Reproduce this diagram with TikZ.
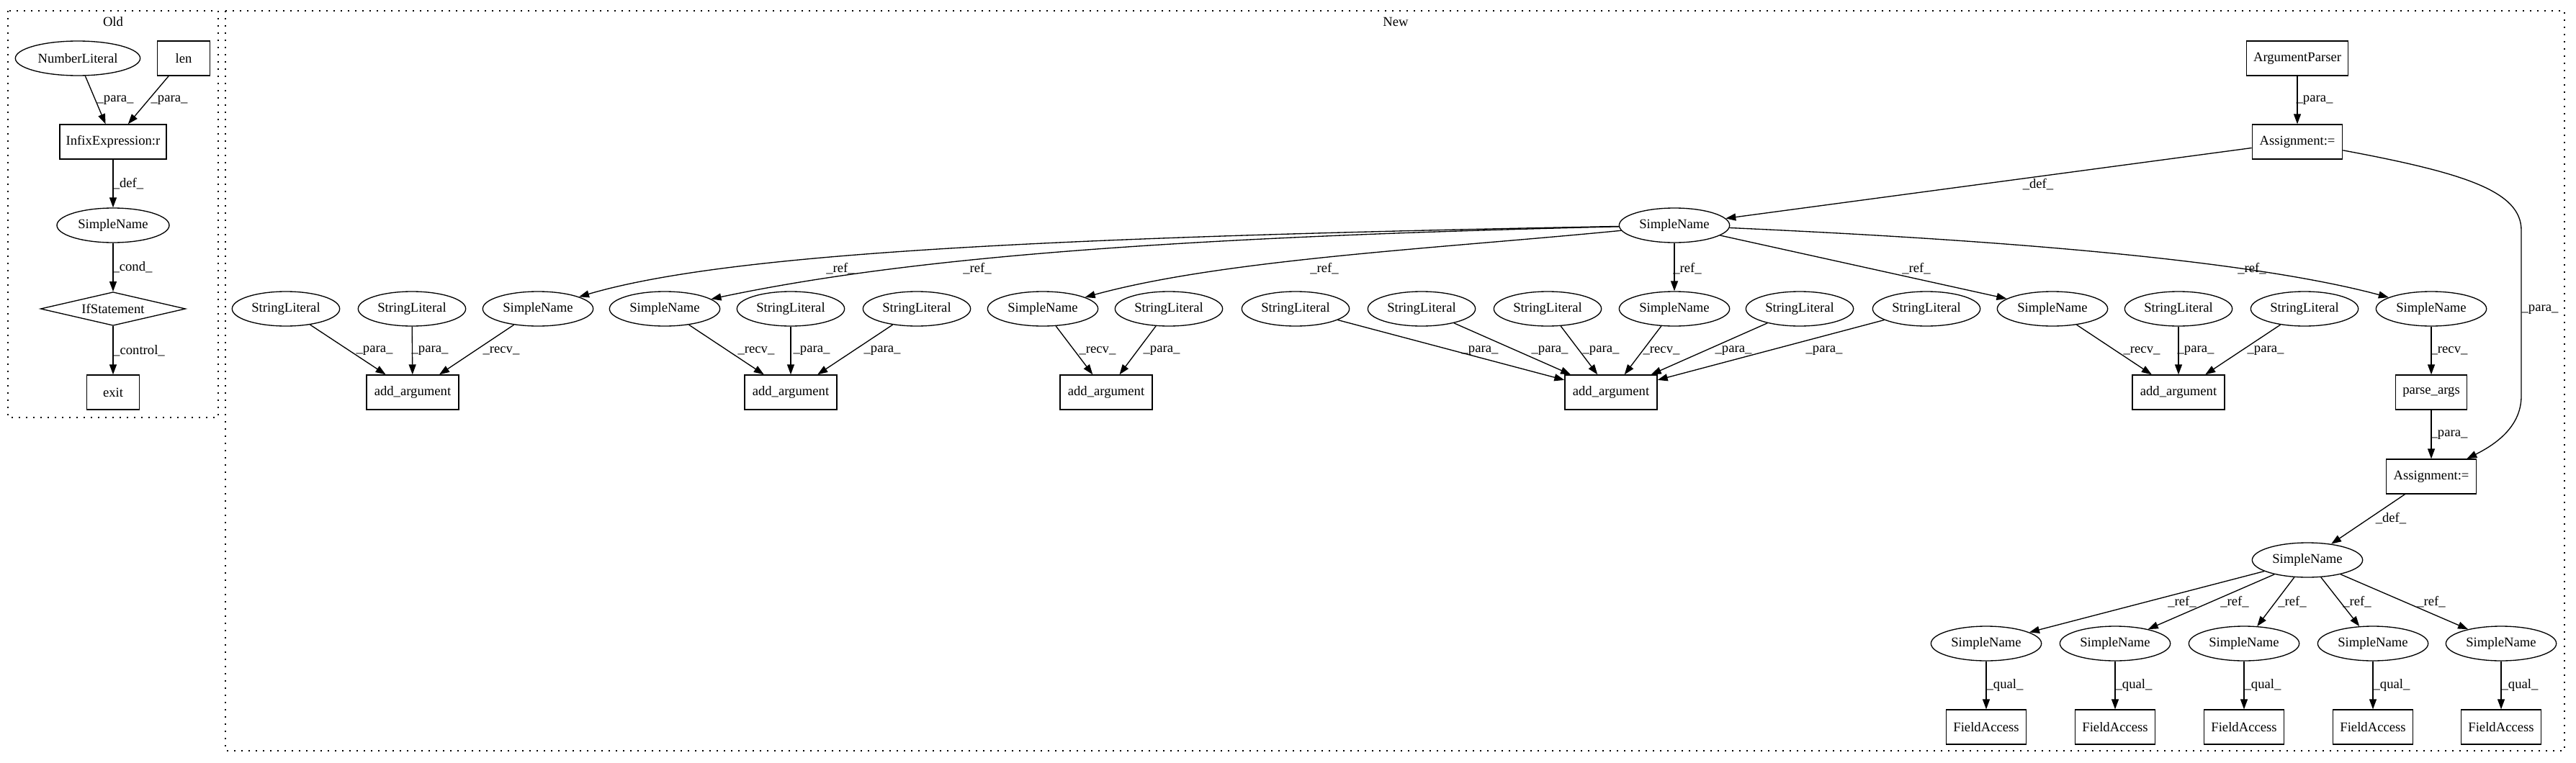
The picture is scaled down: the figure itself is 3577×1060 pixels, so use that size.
\documentclass[tikz,border=0pt]{standalone}
\usepackage{fontspec}
\setmainfont{Liberation Serif}
\usetikzlibrary{shapes.geometric,arrows.meta}
\tikzset{
  ast/.style={draw, line width=1pt, inner sep=0pt, minimum height=36pt},
  ellnode/.style={ast, ellipse, minimum width=115pt},
  strlit/.style={ast, ellipse, minimum width=112pt},
  boxnode/.style={ast, rectangle, minimum width=96pt},
  edge/.style={-{Triangle[length=10.5pt,width=7.5pt]}, line width=1pt},
  lbl/.style={inner sep=0pt},
  cluster/.style={draw, line width=1pt, dash pattern=on 1.2pt off 6.3pt},
}
\begin{document}
\begin{tikzpicture}[x=0.75pt, y=-0.75pt, every node/.append style={font=\fontsize{14}{16.8}\selectfont}]
\useasboundingbox (0,0) rectangle (3577,1060);
% clusters
\draw[cluster] (11,15) rectangle (303,580);
\node (oldtitle) at (157,30) {Old};
\draw[cluster] (313,15) rectangle (3561,1043);
\node (newtitle) at (1938,30) {New};

% old version
\node[ellnode, minimum width=130pt] (numlit) at (108,81) {NumberLiteral};
\node[boxnode, minimum width=55pt] (len) at (255,81) {len};
\node[boxnode, minimum width=111pt] (infix) at (157,197) {InfixExpression:r};
\node[ellnode, minimum width=117pt] (oldname) at (157,313) {SimpleName};
\node[ast, diamond, aspect=4.3, minimum width=151pt, minimum height=35pt] (ifstmt) at (157,429) {IfStatement};
\node[boxnode, minimum width=55pt] (exit) at (157,545) {exit};

\draw[edge] (numlit) -- (infix) node[lbl] at (160,139) {\_para\_};
\draw[edge] (len) -- (infix) node[lbl] at (235,139) {\_para\_};
\draw[edge] (infix) -- (oldname) node[lbl] at (178,255) {\_def\_};
\draw[edge] (oldname) -- (ifstmt) node[lbl] at (184,371) {\_cond\_};
\draw[edge] (ifstmt) -- (exit) node[lbl] at (193,487) {\_control\_};

% new version
\node[boxnode, minimum width=106pt] (parser) at (3190,81) {ArgumentParser};
\node[boxnode, minimum width=94pt] (assignA) at (3190,197) {Assignment:=};
\node[ellnode] (parserVar) at (2325,313) {SimpleName};

\node[strlit] (s1a) at (397,429) {StringLiteral};
\node[strlit] (s1b) at (572,429) {StringLiteral};
\node[ellnode] (n1) at (747,429) {SimpleName};
\node[ellnode] (n2) at (923,429) {SimpleName};
\node[strlit] (s2a) at (1098,429) {StringLiteral};
\node[strlit] (s2b) at (1273,429) {StringLiteral};
\node[ellnode] (n3) at (1448,429) {SimpleName};
\node[strlit] (s3a) at (1623,429) {StringLiteral};
\node[strlit] (s4a) at (1799,429) {StringLiteral};
\node[strlit] (s4b) at (1974,429) {StringLiteral};
\node[strlit] (s4c) at (2149,429) {StringLiteral};
\node[ellnode] (n4) at (2325,429) {SimpleName};
\node[strlit] (s4d) at (2499,429) {StringLiteral};
\node[strlit] (s4e) at (2675,429) {StringLiteral};
\node[ellnode] (n5) at (2850,429) {SimpleName};
\node[strlit] (s5a) at (3025,429) {StringLiteral};
\node[strlit] (s5b) at (3200,429) {StringLiteral};
\node[ellnode] (n6) at (3376,429) {SimpleName};

\node[boxnode] (addArgA) at (573,545) {add\_argument};
\node[boxnode] (addArgB) at (1098,545) {add\_argument};
\node[boxnode] (addArgC) at (1536,545) {add\_argument};
\node[boxnode] (addArgD) at (2237,545) {add\_argument};
\node[boxnode] (addArgE) at (3025,545) {add\_argument};
\node[boxnode, minimum width=74pt] (parseArgs) at (3376,545) {parse\_args};

\node[boxnode, minimum width=94pt] (assignB) at (3376,662) {Assignment:=};
\node[ellnode] (argsVar) at (3204,778) {SimpleName};

\node[ellnode] (q1) at (2758,894) {SimpleName};
\node[ellnode] (q2) at (2937,894) {SimpleName};
\node[ellnode] (q3) at (3116,894) {SimpleName};
\node[ellnode] (q4) at (3295,894) {SimpleName};
\node[ellnode] (q5) at (3473,894) {SimpleName};
\node[boxnode, minimum width=83pt] (fa1) at (2758,1010) {FieldAccess};
\node[boxnode, minimum width=83pt] (fa2) at (2937,1010) {FieldAccess};
\node[boxnode, minimum width=83pt] (fa3) at (3116,1010) {FieldAccess};
\node[boxnode, minimum width=83pt] (fa4) at (3295,1010) {FieldAccess};
\node[boxnode, minimum width=83pt] (fa5) at (3473,1010) {FieldAccess};

\draw[edge] (parser) -- (assignA) node[lbl] at (3214,139) {\_para\_};
\draw[edge] (assignA) -- (parserVar) node[lbl] at (2830,256) {\_def\_};
\draw[edge] (assignA) .. controls (3420,240) and (3501,265) .. (3501,320)
  -- (3501,550) .. controls (3501,590) and (3470,615) .. (assignB)
  node[lbl] at (3527,430) {\_para\_};

\draw[edge] (parserVar) .. controls (1400,330) and (1000,355) .. (n1) node[lbl] at (1167,373) {\_ref\_};
\draw[edge] (parserVar) .. controls (1600,330) and (1250,360) .. (n2) node[lbl] at (1357,373) {\_ref\_};
\draw[edge] (parserVar) .. controls (2000,345) and (1700,360) .. (n3) node[lbl] at (1839,373) {\_ref\_};
\draw[edge] (parserVar) -- (n4) node[lbl] at (2343,373) {\_ref\_};
\draw[edge] (parserVar) -- (n5) node[lbl] at (2661,373) {\_ref\_};
\draw[edge] (parserVar) .. controls (2700,330) and (3100,355) .. (n6) node[lbl] at (3127,373) {\_ref\_};

\draw[edge] (s1a) -- (addArgA) node[lbl] at (520,487) {\_para\_};
\draw[edge] (s1b) -- (addArgA) node[lbl] at (597,487) {\_para\_};
\draw[edge] (n1) -- (addArgA) node[lbl] at (696,487) {\_recv\_};
\draw[edge] (n2) -- (addArgB) node[lbl] at (1050,487) {\_recv\_};
\draw[edge] (s2a) -- (addArgB) node[lbl] at (1127,487) {\_para\_};
\draw[edge] (s2b) -- (addArgB) node[lbl] at (1225,487) {\_para\_};
\draw[edge] (n3) -- (addArgC) node[lbl] at (1524,487) {\_recv\_};
\draw[edge] (s3a) -- (addArgC) node[lbl] at (1613,487) {\_para\_};
\draw[edge] (s4a) -- (addArgD) node[lbl] at (2055,487) {\_para\_};
\draw[edge] (s4b) -- (addArgD) node[lbl] at (2152,487) {\_para\_};
\draw[edge] (s4c) -- (addArgD) node[lbl] at (2223,487) {\_para\_};
\draw[edge] (n4) -- (addArgD) node[lbl] at (2307,487) {\_recv\_};
\draw[edge] (s4d) -- (addArgD) node[lbl] at (2407,487) {\_para\_};
\draw[edge] (s4e) -- (addArgD) node[lbl] at (2533,487) {\_para\_};
\draw[edge] (n5) -- (addArgE) node[lbl] at (2974,487) {\_recv\_};
\draw[edge] (s5a) -- (addArgE) node[lbl] at (3049,487) {\_para\_};
\draw[edge] (s5b) -- (addArgE) node[lbl] at (3146,487) {\_para\_};
\draw[edge] (n6) -- (parseArgs) node[lbl] at (3401,487) {\_recv\_};

\draw[edge] (parseArgs) -- (assignB) node[lbl] at (3401,604) {\_para\_};
\draw[edge] (assignB) -- (argsVar) node[lbl] at (3320,720) {\_def\_};
\draw[edge] (argsVar) -- (q1) node[lbl] at (3030,836) {\_ref\_};
\draw[edge] (argsVar) -- (q2) node[lbl] at (3103,836) {\_ref\_};
\draw[edge] (argsVar) -- (q3) node[lbl] at (3183,836) {\_ref\_};
\draw[edge] (argsVar) -- (q4) node[lbl] at (3273,836) {\_ref\_};
\draw[edge] (argsVar) -- (q5) node[lbl] at (3376,836) {\_ref\_};
\draw[edge] (q1) -- (fa1) node[lbl] at (2784,952) {\_qual\_};
\draw[edge] (q2) -- (fa2) node[lbl] at (2963,952) {\_qual\_};
\draw[edge] (q3) -- (fa3) node[lbl] at (3142,952) {\_qual\_};
\draw[edge] (q4) -- (fa4) node[lbl] at (3321,952) {\_qual\_};
\draw[edge] (q5) -- (fa5) node[lbl] at (3499,952) {\_qual\_};
\end{tikzpicture}
\end{document}
